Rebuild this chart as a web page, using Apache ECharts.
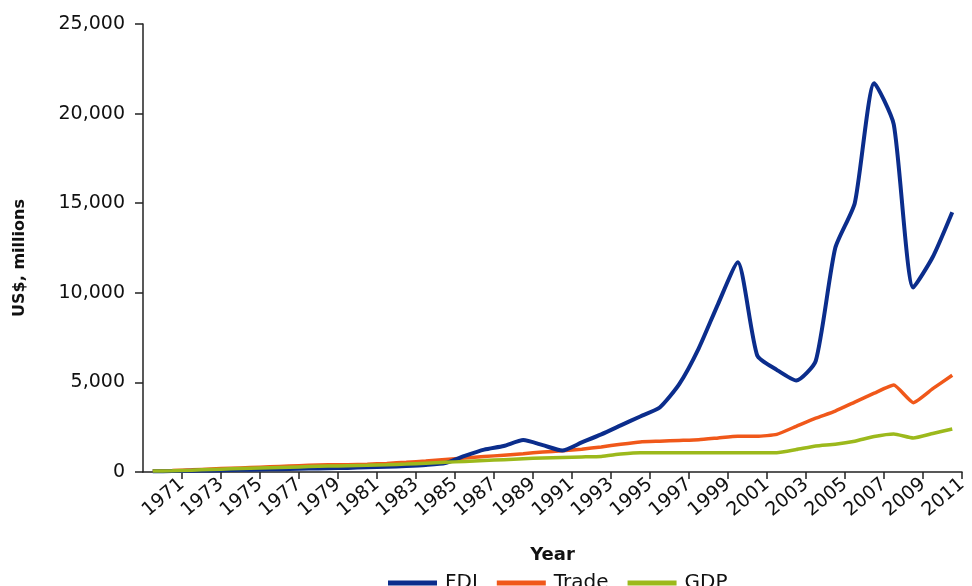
<!DOCTYPE html>
<html>
<head>
<meta charset="utf-8">
<script src="https://cdn.jsdelivr.net/npm/echarts@6/dist/echarts.min.js"></script>
<style>
html,body{margin:0;padding:0;background:#fff;}
#chart{width:972px;height:586px;}
</style>
</head>
<body>
<div id="chart"></div>
<script>
const years = [1970,1971,1972,1973,1974,1975,1976,1977,1978,1979,1980,1981,1982,1983,1984,1985,1986,1987,1988,1989,1990,1991,1992,1993,1994,1995,1996,1997,1998,1999,2000,2001,2002,2003,2004,2005,2006,2007,2008,2009,2010,2011];
const fdi = [40,50,70,90,110,130,150,170,190,210,230,260,290,330,390,500,900,1250,1450,1780,1500,1200,1650,2100,2600,3100,3600,4900,6900,9400,11700,6500,5700,5100,6200,12500,15000,21700,19400,10300,12000,14500];
const trade = [50,80,120,170,210,250,290,330,370,400,410,430,480,540,610,700,780,860,940,1020,1120,1180,1270,1400,1550,1680,1720,1760,1800,1900,2000,1990,2100,2550,3000,3400,3900,4400,4850,3870,4650,5400];
const gdp = [50,70,100,140,180,210,240,270,300,330,350,370,400,440,490,540,590,640,690,740,780,810,840,870,1000,1080,1080,1080,1080,1080,1080,1080,1080,1250,1450,1550,1720,1980,2120,1900,2150,2400];
const yTicks = [0,5000,10000,15000,20000,25000];
const seriesNames = ['FDI','Trade','GDP'];
const colors = ['#0b2d8c','#f0581a','#9cb91c'];

const firstYear = years[0];
const toPts = arr => arr.map((v,i) => [years[i] - firstYear + 0.5, v]);
const fontFam = '"DejaVu Sans", sans-serif';

const chart = echarts.init(document.getElementById('chart'), null, {renderer:'canvas'});
chart.setOption({
  animation: false,
  backgroundColor: '#fff',
  grid: {left: 143, right: 10, top: 24, bottom: 114, containLabel: false},
  xAxis: {
    type: 'value',
    min: 0,
    max: years.length,
    interval: 2,
    name: 'Year',
    nameLocation: 'middle',
    nameGap: 74,
    nameTextStyle: {fontFamily: fontFam, fontSize: 18, fontWeight: 'bold', color: '#111'},
    axisLine: {show: true, lineStyle: {color: '#222', width: 1.5}},
    axisTick: {show: true, length: 7, lineStyle: {color: '#222', width: 1.5}},
    splitLine: {show: false},
    axisLabel: {
      rotate: 40,
      margin: 10,
      fontFamily: fontFam,
      fontSize: 19,
      color: '#111',
      showMinLabel: false,
      formatter: v => v === 0 ? '' : String(firstYear - 1 + v)
    }
  },
  yAxis: {
    type: 'value',
    min: yTicks[0],
    max: yTicks[yTicks.length-1],
    interval: yTicks[1] - yTicks[0],
    name: 'US$, millions',
    nameLocation: 'middle',
    nameGap: 115,
    nameRotate: 90,
    nameTextStyle: {fontFamily: fontFam, fontSize: 16, fontWeight: 'bold', color: '#111', padding: [0, 20, 0, 0]},
    axisLine: {show: true, lineStyle: {color: '#222', width: 1.5}},
    axisTick: {show: true, length: 8, lineStyle: {color: '#222', width: 1.5}},
    splitLine: {show: false},
    axisLabel: {
      margin: 18,
      fontFamily: fontFam,
      fontSize: 19,
      color: '#111',
      formatter: v => v.toLocaleString('en-US')
    }
  },
  legend: {
    data: seriesNames,
    left: 383,
    top: 568,
    icon: 'rect',
    itemWidth: 49,
    itemHeight: 5,
    itemGap: 19,
    textStyle: {fontFamily: fontFam, fontSize: 20, color: '#111', padding: [0,0,0,3]}
  },
  series: [
    {name: seriesNames[0], type: 'line', data: toPts(fdi), smooth: 0.2, showSymbol: false, symbol: 'none', lineStyle: {color: colors[0], width: 4}, itemStyle: {color: colors[0]}, z: 3},
    {name: seriesNames[1], type: 'line', data: toPts(trade), smooth: 0.15, showSymbol: false, symbol: 'none', lineStyle: {color: colors[1], width: 3.5}, itemStyle: {color: colors[1]}, z: 2},
    {name: seriesNames[2], type: 'line', data: toPts(gdp), smooth: 0.15, showSymbol: false, symbol: 'none', lineStyle: {color: colors[2], width: 3.5}, itemStyle: {color: colors[2]}, z: 4}
  ]
});
</script>
</body>
</html>
